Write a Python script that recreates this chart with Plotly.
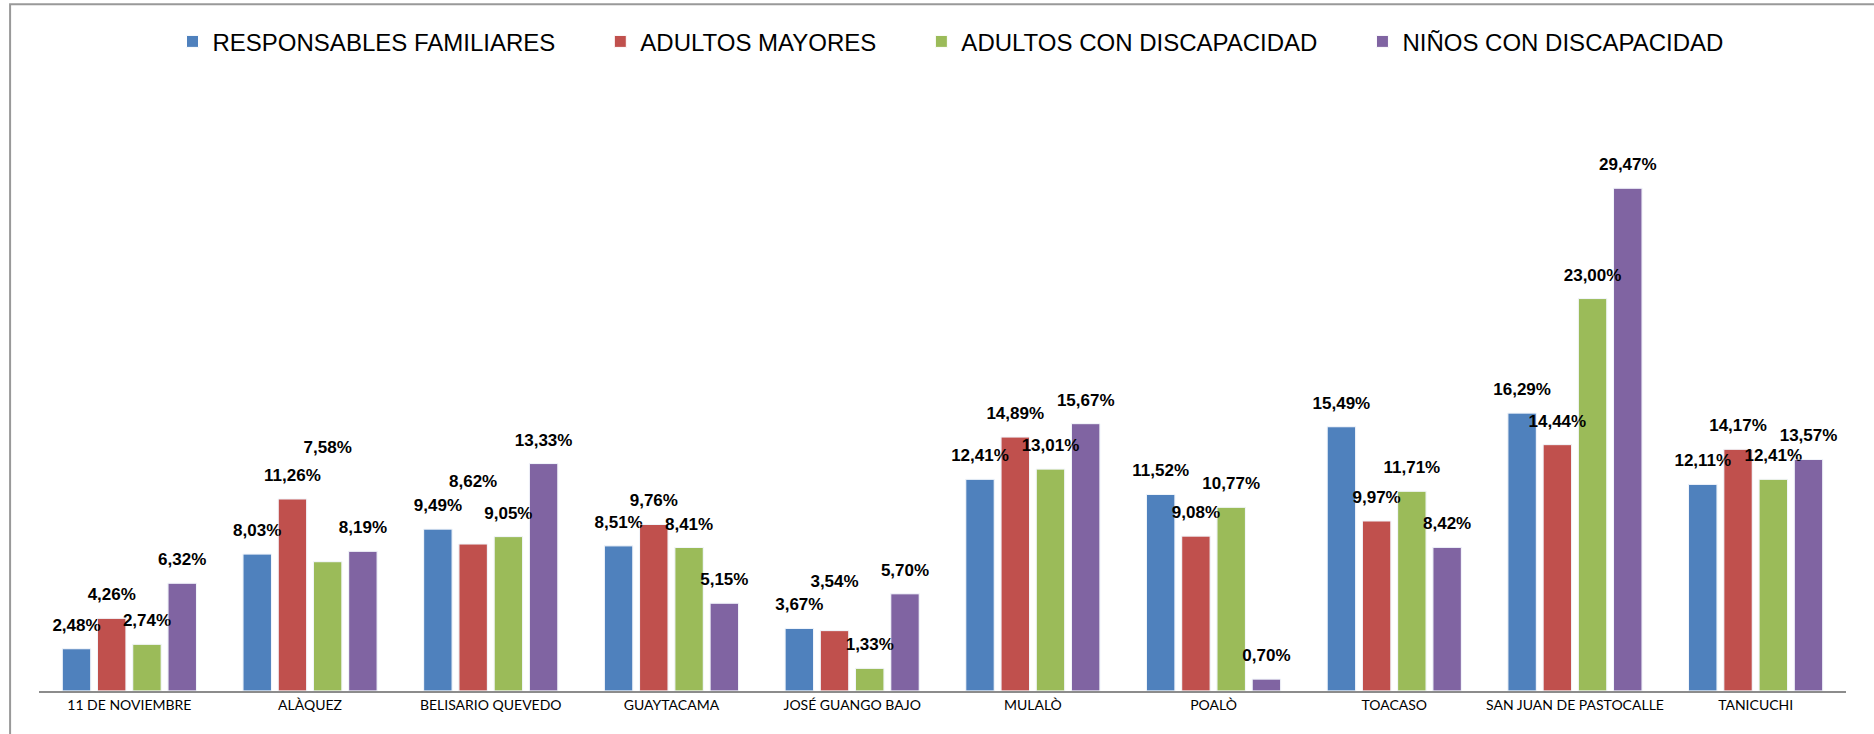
import plotly.graph_objects as go

categories = [
    "11 DE NOVIEMBRE", "ALÀQUEZ", "BELISARIO QUEVEDO", "GUAYTACAMA",
    "JOSÉ GUANGO BAJO", "MULALÒ", "POALÒ", "TOACASO",
    "SAN JUAN DE PASTOCALLE", "TANICUCHI",
]
responsables = [2.48, 8.03, 9.49, 8.51, 3.67, 12.41, 11.52, 15.49, 16.29, 12.11]
adultos_mayores = [4.26, 11.26, 8.62, 9.76, 3.54, 14.89, 9.08, 9.97, 14.44, 14.17]
adultos_discap = [2.74, 7.58, 9.05, 8.41, 1.33, 13.01, 10.77, 11.71, 23.00, 12.41]
ninos_discap = [6.32, 8.19, 13.33, 5.15, 5.70, 15.67, 0.70, 8.42, 29.47, 13.57]

series = [
    ("RESPONSABLES FAMILIARES", responsables, "#4F81BD"),
    ("ADULTOS MAYORES", adultos_mayores, "#C0504D"),
    ("ADULTOS CON DISCAPACIDAD", adultos_discap, "#9BBB59"),
    ("NIÑOS CON DISCAPACIDAD", ninos_discap, "#8064A2"),
]

# labels that the original chart pushes higher so they do not collide
# (series name, category) -> extra blank lines under the label
extra_lift = {
    ("ADULTOS CON DISCAPACIDAD", "ALÀQUEZ"): 7,
    ("ADULTOS MAYORES", "BELISARIO QUEVEDO"): 3,
    ("ADULTOS MAYORES", "JOSÉ GUANGO BAJO"): 2,
}

# trailing no-break spaces widen the gap between legend entries
LEGEND_PAD = "\u00a0" * 6


def pct(v, lift=0):
    # big label on the first line, small blank lines under it lift it off the bar
    label = f"{v:.2f}".replace(".", ",") + "%"
    return f"<span style='font-size:17px'>{label}</span>" + "<br> " * (1 + lift)


fig = go.Figure()
for name, values, color in series:
    fig.add_trace(
        go.Bar(
            x=categories,
            y=values,
            name=name + LEGEND_PAD,
            offsetgroup=name,
            marker=dict(color=color, line=dict(color="white", width=1)),
        )
    )

# labels go in a second, see-through set of bars so they sit above every bar
for name, values, color in series:
    texts = [pct(v, extra_lift.get((name, cat), 0)) for v, cat in zip(values, categories)]
    fig.add_trace(
        go.Bar(
            x=categories,
            y=values,
            offsetgroup=name,
            showlegend=False,
            hoverinfo="skip",
            marker=dict(color="rgba(0,0,0,0)"),
            text=texts,
            textposition="outside",
            constraintext="none",
            cliponaxis=False,
            textfont=dict(family="Liberation Sans", size=10, color="black", weight="bold"),
        )
    )

fig.update_layout(
    width=1874,
    height=734,
    paper_bgcolor="white",
    plot_bgcolor="white",
    barmode="group",
    bargap=0.22,
    bargroupgap=0.19,
    margin=dict(l=39, r=28, t=145, b=43),
    font=dict(family="Liberation Sans", color="black"),
    showlegend=True,
    legend=dict(
        orientation="h",
        x=0.5155,
        xanchor="center",
        y=1.189,
        yanchor="middle",
        font=dict(family="Liberation Sans", size=24, color="black"),
        itemwidth=30,
    ),
    xaxis=dict(
        showline=True,
        linecolor="#8c8c8c",
        linewidth=2,
        ticks="",
        showgrid=False,
        tickfont=dict(family="Lato", size=14, color="black"),
        range=[-0.5, 9.5],
    ),
    yaxis=dict(
        range=[0, 32],
        visible=False,
        showgrid=False,
        zeroline=False,
    ),
    shapes=[
        dict(
            type="path",
            xref="paper",
            yref="paper",
            path="M -0.016,-0.2 L -0.016,1.258 L 1.1,1.258",
            line=dict(color="#999999", width=2),
        )
    ],
)

fig.write_html(
    "out.html",
    config={"displayModeBar": False},
    post_script="document.body.style.margin='0';",
)
